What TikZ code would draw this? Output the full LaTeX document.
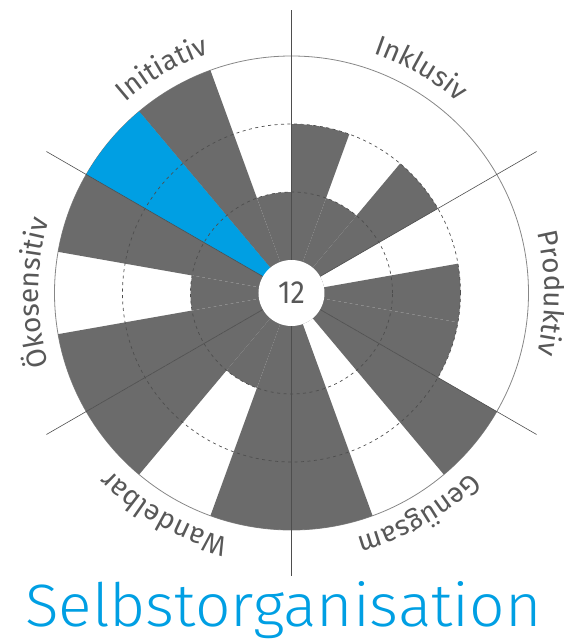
\documentclass[tikz,border=0pt]{standalone}
\usepackage{fontspec}
\setmainfont{Fira Sans}
\newfontfamily\titlefont{Fira Sans}[UprightFont=* Light]
\usetikzlibrary{decorations.text}
\definecolor{barGray}{RGB}{107,107,107}
\definecolor{lineGray}{RGB}{78,78,78}
\definecolor{ringGray}{RGB}{135,135,135}
\definecolor{textGray}{RGB}{88,88,88}
\definecolor{selfBlue}{RGB}{0,159,227}
\tikzset{
  bar/.style={fill=barGray},
  axis/.style={lineGray, line width=0.6pt},
  ring/.style={ringGray, line width=0.8pt},
  dashring/.style={lineGray, line width=0.7pt, dash pattern=on 3pt off 3.5pt},
  arclabel/.style={decorate, decoration={text along path, text align=center,
    text={|\fontsize{28}{28}\selectfont\color{textGray}|#1}}}
}

\begin{document}
\begin{tikzpicture}[x=1pt,y=1pt]
  \useasboundingbox (-291.5,-350) rectangle (272.5,293);
  \draw[ring] (0,0) circle (237);
  \foreach \v [count=\i from 0] in {2,1,2,0,2,2,3,0,3,3,1,3,3,1,3,3,3,1}
    \fill[bar] (0,0) -- ({90-20*\i}:{33+68*\v}) arc[start angle={90-20*\i}, delta angle=-20, radius={33+68*\v}] -- cycle;
  \fill[selfBlue] (0,0) -- (150:237) arc[start angle=150, end angle=130, radius=237] -- cycle;
  \draw[dashring] (0,0) circle (101);
  \draw[dashring] (0,0) circle (169);
  \node[circle, fill=white, minimum size=66pt, inner sep=0pt, text=textGray, font=\fontsize{32}{32}\selectfont] (core) at (0,0) {\scalebox{0.9}[1]{12}};
  \foreach \a in {90,30,-30,-90,-150,150}
    \draw[axis] (core.\a) -- (\a:283);
  \path[arclabel=Inklusiv] (100:253) arc[start angle=100, end angle=20, radius=253];
  \path[arclabel=Produktiv] (40:253) arc[start angle=40, end angle=-40, radius=253];
  \path[arclabel=Genügsam] (-20:253) arc[start angle=-20, end angle=-100, radius=253];
  \path[arclabel=Wandelbar] (-80:253) arc[start angle=-80, end angle=-160, radius=253];
  \path[arclabel=Ökosensitiv] (220:253) arc[start angle=220, end angle=140, radius=253];
  \path[arclabel=Initiativ] (160:253) arc[start angle=160, end angle=80, radius=253];
  \node[anchor=base west, inner sep=0pt, text=selfBlue] (title) at (-266.5,-333) {\resizebox{516pt}{45pt}{\titlefont Selbstorganisation}};
\end{tikzpicture}
\end{document}
